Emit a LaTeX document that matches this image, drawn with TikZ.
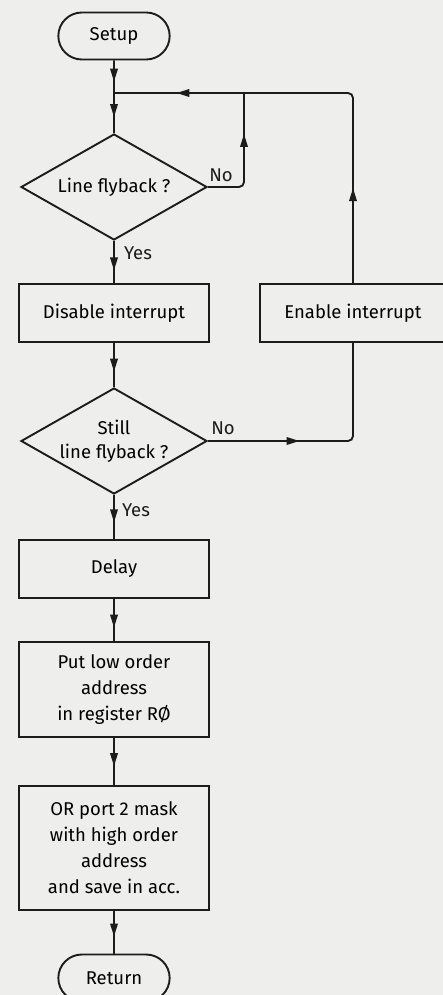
\documentclass[tikz,border=0pt]{standalone}
\usepackage{fontspec}
\newfontfamily\flowfont{Fira Sans}
\usetikzlibrary{
    shapes.geometric,
    shapes.misc,
    arrows.meta,
    decorations.markings
}
\definecolor{paper}{RGB}{238,238,236}
\definecolor{ink}{RGB}{28,28,28}
\tikzset{
    % Terminals
    terminal/.style={
        rounded rectangle,
        draw=ink,
        line width=1.9pt,
        minimum width=118pt,
        minimum height=47pt,
        font=\flowfont\fontsize{18.5}{26}\selectfont
    },
    % Process boxes
    process/.style={
        rectangle,
        draw=ink,
        line width=1.9pt,
        minimum width=190pt,
        align=center,
        font=\flowfont\fontsize{18.5}{26}\selectfont
    },
    % Decisions
    decision/.style={
        diamond,
        draw=ink,
        line width=1.9pt,
        inner sep=0pt,
        aspect=1.76,
        minimum width=186pt,
        minimum height=106pt,
        align=center,
        font=\flowfont\fontsize{18.5}{24}\selectfont
    },
    % Connectors
    flow/.style={
        draw=ink,
        line width=1.9pt
    },
    midarrow/.style={
        postaction={decorate},
        decoration={markings,
            mark=at position #1 with {\arrow{Triangle[width=7.5pt,length=13pt]}}}
    },
    answer/.style={
        font=\flowfont\fontsize{18.5}{22}\selectfont,
        text=ink,
        inner sep=1pt
    }
}

\begin{document}
\begin{tikzpicture}[x=1pt, y=-1pt]

    % Page
    \fill[paper] (0,0) rectangle (443,995);
    \useasboundingbox (0,0) rectangle (443,995);

    % Steps
    \node[terminal] (setup) at (114,36) {Setup};
    \coordinate (join) at (114,93);
    \coordinate (loop) at (244,93);
    \node[decision] (flyback) at (114,187) {Line flyback ?};
    \node[process, minimum height=58pt] (disable) at (114,313) {Disable interrupt};
    \node[process, minimum width=186pt, minimum height=58pt] (enable) at (353,313) {Enable interrupt};
    \node[decision] (still) at (114,441) {Still\\line flyback ?};
    \node[process, minimum height=58pt] (delay) at (114,569) {Delay};
    \node[process, minimum height=95pt] (low) at (114,689.5) {Put low order\\address\\in register RØ};
    \node[process, minimum height=124pt] (high) at (114,848) {OR port 2 mask\\with high order\\address\\and save in acc.};
    \node[terminal] (return) at (114,978) {Return};

    % Answers
    \node[answer] (no1) at (221,175) {No};
    \node[answer] (yes1) at (138,253) {Yes};
    \node[answer] (no2) at (223,428) {No};
    \node[answer] (yes2) at (136,510) {Yes};

    % Main line
    \draw[flow, midarrow=0.65] (setup) -- (join);
    \draw[flow, midarrow=0.6] (join) -- (flyback.north);
    \draw[flow, midarrow=0.7] (flyback.south) -- (disable.north);
    \draw[flow, midarrow=0.65] (disable.south) -- (still.north);
    \draw[flow, midarrow=0.62] (still.south) -- (delay.north);
    \draw[flow, midarrow=0.68] (delay.south) -- (low.north);
    \draw[flow, midarrow=0.6] (low.south) -- (high.north);
    \draw[flow, midarrow=0.6] (high.south) -- (return.north);

    % Loops
    \draw[flow, rounded corners=5pt, midarrow=0.68] (flyback.east) -| (loop);
    \draw[flow, rounded corners=5pt, midarrow=0.38] (still.east) -| (enable.south);
    \draw[flow, rounded corners=5pt, midarrow=0.32] (enable.north) |- (loop);
    \draw[flow, midarrow=0.52] (loop) -- (join);

\end{tikzpicture}
\end{document}
